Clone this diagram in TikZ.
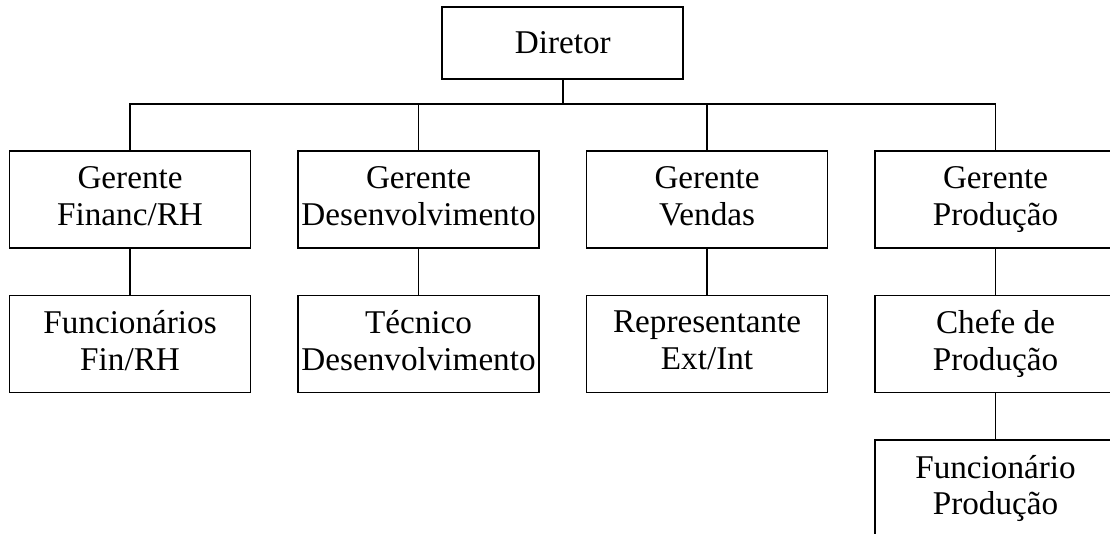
\documentclass[tikz,border=0pt]{standalone}
\usepackage{fontspec}
\setmainfont{Liberation Serif}
\usetikzlibrary{trees}

\tikzset{
  cargo/.style={draw, line width=0.85pt, minimum width=120.5pt, minimum height=48.5pt,
                inner sep=1pt, align=center, font=\fontsize{16.6}{18.3}\selectfont,
                execute at begin node={\rule{0pt}{14.1pt}},
                execute at end node={\rule[-3.7pt]{0pt}{3.7pt}}},
  topo/.style={cargo, minimum height=36pt}
}

\begin{document}
\begin{tikzpicture}[level 1/.style={sibling distance=144.25pt, level distance=78.25pt},
            level 2/.style={level distance=72.25pt},
            edge from parent/.style={draw, line width=0.85pt},
            edge from parent path={(\tikzparentnode.south) -- +(0,-12pt) -| (\tikzchildnode.north)}]

            \useasboundingbox (0,0) rectangle (555pt,-267pt);
            \clip (0,0) rectangle (555pt,-267pt);

            \node[topo] (dir) at (281.4pt,-21.5pt) {Diretor}
            child
            {
                node[cargo] (gfin) {Gerente\\Financ/RH}
                child {node[cargo] (ffin) {Funcionários\\Fin/RH}}
            }
            child
            {
                node[cargo] (gdes) {Gerente\\Desenvolvimento}
                child {node[cargo] (tdes) {Técnico\\Desenvolvimento}}
            }
            child
            {
                node[cargo] (gven) {Gerente\\Vendas}
                child {node[cargo] (rven) {Representante\\Ext/Int}}
            }
            child
            {
                node[cargo] (gpro) {Gerente\\Produção}
                child
                {
                    node[cargo] (cpro) {Chefe de\\Produção}
                    child {node[cargo] (fpro) {Funcionário\\Produção}}
                }
            };
        \end{tikzpicture}
\end{document}
